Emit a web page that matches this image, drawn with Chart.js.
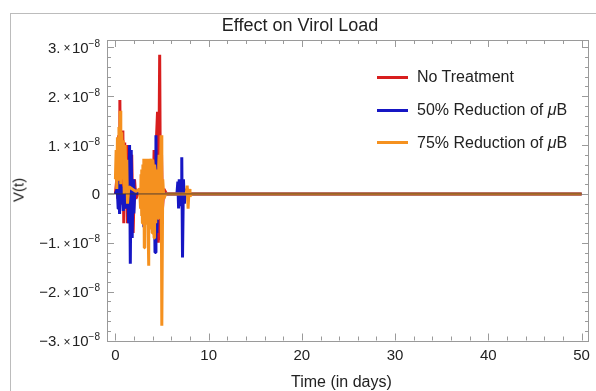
<!DOCTYPE html>
<html>
<head>
<meta charset="utf-8">
<script src="https://cdn.jsdelivr.net/npm/chart.js@4/dist/chart.umd.min.js"></script>
<style>
  body { margin: 0; background: #fff; font-family: "Liberation Sans", Arial, sans-serif; }
  #wrap { position: relative; width: 596px; height: 391px; overflow: hidden; }
  #box { position: absolute; left: 10px; top: 13px; width: 620px; height: 420px; border: 1px solid #bcbcbc; }
  canvas { position: absolute; left: 0; top: 0; }
  .txt { position: absolute; color: #222; white-space: nowrap; line-height: 1; }
  #title { left: 0; width: 600px; top: 16px; text-align: center; font-size: 18px; }
  #xlabel { left: 291px; top: 374px; font-size: 16px; }
  #ylabel { left: 18px; top: 190px; font-size: 15px; transform: translate(-50%, -50%) rotate(-90deg); }
  #legend { position: absolute; left: 377px; top: 61px; font-size: 16px; color: #222; }
  #legend .row { height: 32.8px; display: flex; align-items: center; }
  #legend .swatch { width: 31px; height: 3px; margin-right: 9px; }
</style>
</head>
<body>
<div id="wrap">
  <div id="box"></div>
  <canvas id="chart" width="596" height="391"></canvas>
  <div class="txt" id="title">Effect on Virol Load</div>
  <div class="txt" id="xlabel">Time (in days)</div>
  <div class="txt" id="ylabel">V(t)</div>
  <div id="legend"></div>
</div>
<script>
// series names and colours
const seriesNames = ['No Treatment', '50% Reduction of μB', '75% Reduction of μB'];
const seriesColors = ['#d81e1e', '#1616c4', '#f5911f'];

// V(t) values are in units of 1e-8
// No Treatment
const tRed = [0, 0.15, 0.25, 0.35, 0.42, 0.48, 0.55, 0.65, 0.72, 0.8, 0.9, 1.0, 1.1, 1.2, 1.3, 1.45, 1.6, 1.75, 1.9,
  2.05, 2.2, 2.5, 3.0, 3.3, 3.5, 3.7, 3.85, 4.0, 4.15, 4.3, 4.42, 4.52, 4.6, 4.75, 4.85, 4.95, 5.05, 5.2, 5.5, 50];
const vRed = [0, 0.3, -0.1, 1.2, 0.2, 1.92, 0.1, 1.1, -0.2, 1.3, -0.6, 1.05, -0.3, 1.0, -0.6, 0.6, -0.5, 0.8, -0.8,
  0.3, -0.1, 0.05, 0.1, -0.3, 0.4, -0.5, 0.7, -0.7, 0.9, -0.9, 1.2, 1.68, -1.0, 2.85, -0.95, 0.8, -0.3, 0.1, 0, 0];

// 50% reduction
const tBlue = [0, 0.2, 0.3, 0.38, 0.45, 0.55, 0.65, 0.75, 0.85, 1.0, 1.15, 1.3, 1.42, 1.52, 1.6, 1.7, 1.8, 1.9, 1.98,
  2.1, 2.3, 2.9, 3.05, 3.2, 3.5, 3.8, 4.0, 4.15, 4.25, 4.35, 4.45, 4.6, 4.8,
  6.6, 6.7, 6.78, 6.85, 6.92, 7.0, 7.05, 7.12, 7.2, 7.3, 7.4, 7.55, 7.7, 50];
const vBlue = [0, 0.1, -0.3, 0.27, -0.41, 0.2, -0.2, 0.15, -0.35, 0.1, -0.3, 0.3, -0.6, 1.0, -1.43, 0.9, -0.9, 0.3, -0.4,
  0.1, 0, 0.1, -0.68, 0.3, -0.3, 0.4, -0.5, 0.6, -1.2, 1.2, -0.8, 0.3, 0,
  0, 0.25, -0.3, 0.3, -0.25, 0.3, -0.2, 0.75, -1.3, 0.3, -0.2, 0.1, 0, 0];

// 75% reduction
const tOrange = [0, 0.08, 0.15, 0.22, 0.3, 0.38, 0.45, 0.5, 0.58, 0.68, 0.76, 0.85, 0.95, 1.05, 1.15, 1.22, 1.3,
  1.45, 1.8, 2.2, 2.6, 2.7, 2.75, 2.8, 2.85, 2.9, 2.95, 3.0, 3.05, 3.1, 3.15, 3.2, 3.25, 3.3, 3.35, 3.4, 3.45, 3.5, 3.55,
  3.6, 3.65, 3.7, 3.75, 3.8, 3.85, 3.9, 3.95, 4.0, 4.05, 4.1, 4.15, 4.2, 4.25, 4.3, 4.35, 4.4, 4.45, 4.5, 4.55, 4.6,
  4.65, 4.7, 4.75, 4.8, 4.85, 4.9, 4.98, 5.08, 5.2, 5.4, 7.6, 7.7, 7.8, 7.9, 8.0, 8.2, 50];
const vOrange = [0.3, 0.9, 0.1, 1.16, 0.3, 1.37, 0.4, 1.7, 0.2, 1.26, 0.3, 1.1, 0.0, 1.0, 0.1, 0.7, -0.2,
  0.15, 0.1, 0.05, 0.1, -0.3, 0.4, -0.45, 0.5, -0.6, 0.6, -0.4, 0.72, -1.1, 0.6, -0.5, 0.7, -0.6, 0.72, -0.5, 0.72, -0.6, -1.47,
  0.7, -0.5, 0.72, -0.7, 0.6, 0.72, -0.5, -0.8, 0.7, 0.6, -0.6, -0.9, 0.6, 0.5, -0.5, -0.6, 0.5, -0.4, 0.4, -0.5, -0.5,
  0.6, 0.8, -0.4, -0.4, 0.6, 1.2, -2.7, 0.3, -0.1, 0, 0, 0.17, -0.3, 0.1, -0.05, 0, 0];

const seriesT = [tRed, tBlue, tOrange];
const seriesV = [vRed, vBlue, vOrange];

// axes
const xTickValues = [0, 10, 20, 30, 40, 50];
const yTickValues = [3, 2, 1, 0, -1, -2, -3];
const yTickMantissa = ['3.', '2.', '1.', '0', '\u22121.', '\u22122.', '\u22123.'];
const yTickExponent = ['\u22128', '\u22128', '\u22128', '', '\u22128', '\u22128', '\u22128'];

const FONT = '"Liberation Sans", Arial, sans-serif';
const TEXT = '#222';
const FRAME = '#9a9a9a';

function toXY(ts, vs) {
  return ts.map((t, i) => ({ x: t, y: vs[i] }));
}

// frame, inward ticks, zero axis and y labels
const framePlugin = {
  id: 'frame',
  afterDatasetsDraw(chart) {
    const { ctx, chartArea: a, scales: { x, y } } = chart;
    ctx.save();
    // zero axis line on top of the curves
    const y0 = y.getPixelForValue(0);
    ctx.strokeStyle = 'rgba(60,50,50,0.5)';
    ctx.lineWidth = 1.8;
    ctx.beginPath();
    ctx.moveTo(a.left, y0);
    ctx.lineTo(x.getPixelForValue(50), y0);
    ctx.stroke();

    ctx.strokeStyle = FRAME;
    ctx.lineWidth = 1;
    ctx.strokeRect(Math.round(a.left) + 0.5, Math.round(a.top) + 0.5,
      Math.round(a.right - a.left) - 1, Math.round(a.bottom - a.top));

    ctx.beginPath();
    for (let v = 0; v <= 50; v += 2) {
      const len = v % 10 === 0 ? 7 : 4;
      const px = Math.round(x.getPixelForValue(v)) + 0.5;
      ctx.moveTo(px, a.bottom); ctx.lineTo(px, a.bottom - len);
      ctx.moveTo(px, a.top); ctx.lineTo(px, a.top + len);
    }
    for (let k = -15; k <= 15; k++) {
      const v = k / 5;
      const len = k % 5 === 0 ? 7 : 4;
      const py = Math.round(y.getPixelForValue(v)) + 0.5;
      ctx.moveTo(a.left, py); ctx.lineTo(a.left + len, py);
      ctx.moveTo(a.right, py); ctx.lineTo(a.right - len, py);
    }
    ctx.stroke();

    // y tick labels: mantissa × 10^exp
    ctx.fillStyle = TEXT;
    ctx.textBaseline = 'alphabetic';
    ctx.textAlign = 'left';
    const rightX = 100;
    yTickValues.forEach((v, i) => {
      const base = y.getPixelForValue(v) + 5.5;
      const m = yTickMantissa[i];
      const e = yTickExponent[i];
      if (!e) {
        ctx.font = '15px ' + FONT;
        ctx.fillText(m, rightX - ctx.measureText(m).width, base);
        return;
      }
      ctx.font = '15px ' + FONT; const wm = ctx.measureText(m).width; const w10 = ctx.measureText('10').width;
      ctx.font = '12px ' + FONT; const wx = ctx.measureText('\u00d7').width;
      ctx.font = '10px ' + FONT; const we = ctx.measureText(e).width;
      const gap1 = 3, gap2 = 1.5;
      let px = rightX - (wm + gap1 + wx + gap2 + w10 + we);
      ctx.font = '15px ' + FONT; ctx.fillText(m, px, base); px += wm + gap1;
      ctx.font = '12px ' + FONT; ctx.fillText('\u00d7', px, base - 0.5); px += wx + gap2;
      ctx.font = '15px ' + FONT; ctx.fillText('10', px, base); px += w10;
      ctx.font = '10px ' + FONT; ctx.fillText(e, px, base - 6);
    });
    ctx.restore();
  }
};

const datasets = seriesNames.map((name, i) => ({
  label: name,
  data: toXY(seriesT[i], seriesV[i]),
  showLine: true,
  borderColor: seriesColors[i],
  backgroundColor: seriesColors[i],
  borderWidth: 3,
  borderJoinStyle: 'bevel',
  pointRadius: 0,
  tension: 0,
  order: 3 - i
}));

new Chart(document.getElementById('chart'), {
  type: 'scatter',
  data: { datasets },
  options: {
    responsive: false,
    animation: false,
    layout: { padding: { top: 40, right: 6, left: 0, bottom: 0 } },
    plugins: { legend: { display: false }, tooltip: { enabled: false } },
    scales: {
      x: {
        type: 'linear', min: -0.9, max: 50.8,
        grid: { display: false, drawTicks: false },
        border: { display: false },
        afterBuildTicks: s => { s.ticks = xTickValues.map(v => ({ value: v })); },
        afterFit: s => { s.height = 50.5; },
        ticks: { font: { size: 15, family: FONT }, color: TEXT, padding: 6, maxRotation: 0, autoSkip: false }
      },
      y: {
        type: 'linear', min: -3, max: 3.15,
        grid: { display: false, drawTicks: false },
        border: { display: false },
        ticks: { display: false },
        afterFit: s => { s.width = 107; }
      }
    }
  },
  plugins: [framePlugin]
});

// legend inside the plot
document.getElementById('legend').innerHTML = seriesNames.map((n, i) =>
  `<div class="row"><div class="swatch" style="background:${seriesColors[i]}"></div><span>${n.replace('μ', '<i>μ</i>')}</span></div>`
).join('');
</script>
</body>
</html>
